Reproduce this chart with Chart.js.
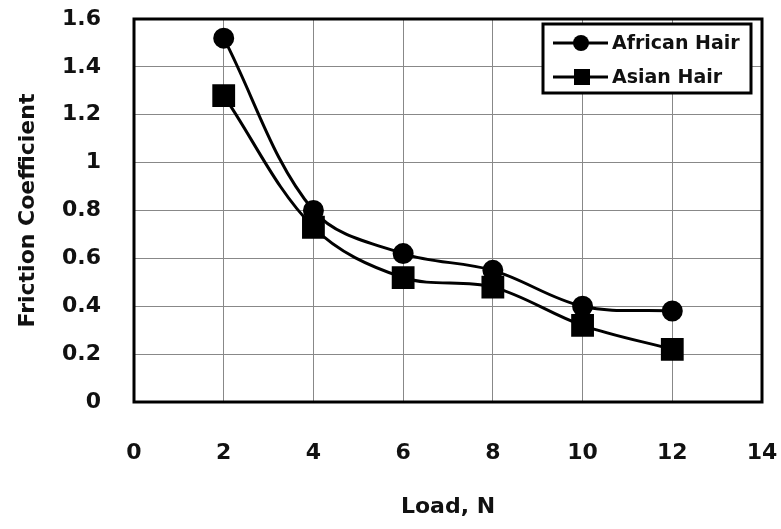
<!DOCTYPE html>
<html lang="en">
<head>
    <meta charset="UTF-8">
    <title>Friction Coefficient vs Load</title>
    <script src="https://cdn.jsdelivr.net/npm/chart.js"></script>
    <style>
        body { margin: 0; background: #fff; }
        #wrap { width: 781px; height: 529px; }
    </style>
</head>
<body>
    <div id="wrap"><canvas id="frictionChart" width="781" height="529"></canvas></div>

    <script>
        // values
        const loads = [2, 4, 6, 8, 10, 12];
        const africanHair = [1.52, 0.80, 0.62, 0.55, 0.40, 0.38];
        const asianHair = [1.28, 0.73, 0.52, 0.48, 0.32, 0.22];
        const seriesNames = ['African Hair', 'Asian Hair'];
        const xTicks = [0, 2, 4, 6, 8, 10, 12, 14];
        const yTicks = [0, 0.2, 0.4, 0.6, 0.8, 1, 1.2, 1.4, 1.6];

        const FONT = 'DejaVu Sans';
        const toPoints = ys => loads.map((x, i) => ({ x: x, y: ys[i] }));

        // thick black box round the plot area
        const frame = {
            id: 'frame',
            beforeDatasetsDraw(chart) {
                const { ctx, chartArea: a } = chart;
                ctx.save();
                ctx.strokeStyle = '#000';
                ctx.lineWidth = 3;
                ctx.strokeRect(a.left, a.top, a.right - a.left, a.bottom - a.top);
                ctx.restore();
            }
        };

        // boxed legend inside the top right corner
        const boxLegend = {
            id: 'boxLegend',
            afterDatasetsDraw(chart) {
                const ctx = chart.ctx;
                const bx = 543, by = 24, bw = 208, bh = 69;
                ctx.save();
                ctx.fillStyle = '#fff';
                ctx.fillRect(bx, by, bw, bh);
                ctx.strokeStyle = '#000';
                ctx.lineWidth = 3;
                ctx.strokeRect(bx, by, bw, bh);
                chart.data.datasets.forEach((ds, i) => {
                    const y = 43 + i * 34;
                    ctx.strokeStyle = '#000';
                    ctx.lineWidth = 3;
                    ctx.beginPath();
                    ctx.moveTo(553, y);
                    ctx.lineTo(608, y);
                    ctx.stroke();
                    ctx.fillStyle = '#000';
                    if (ds.pointStyle === 'rect') {
                        ctx.fillRect(574, y - 8, 16, 16);
                    } else {
                        ctx.beginPath();
                        ctx.arc(581, y, 8, 0, Math.PI * 2);
                        ctx.fill();
                    }
                    ctx.font = 'bold 19px "' + FONT + '"';
                    ctx.textBaseline = 'middle';
                    ctx.fillStyle = '#111';
                    ctx.fillText(ds.label, 612, y + 1);
                });
                ctx.restore();
            }
        };

        new Chart(document.getElementById('frictionChart'), {
            type: 'line',
            data: {
                datasets: [
                    {
                        label: seriesNames[0],
                        data: toPoints(africanHair),
                        borderColor: '#000',
                        backgroundColor: '#000',
                        borderWidth: 3,
                        pointStyle: 'circle',
                        pointRadius: 9,
                        pointHoverRadius: 9,
                        tension: 0.35
                    },
                    {
                        label: seriesNames[1],
                        data: toPoints(asianHair),
                        borderColor: '#000',
                        backgroundColor: '#000',
                        borderWidth: 3,
                        pointStyle: 'rect',
                        pointRadius: 14,
                        pointHoverRadius: 14,
                        tension: 0.35
                    }
                ]
            },
            options: {
                responsive: false,
                animation: false,
                layout: { padding: { top: 19, right: 19, left: 0, bottom: 0 } },
                plugins: {
                    legend: { display: false },
                    tooltip: { enabled: false }
                },
                scales: {
                    x: {
                        type: 'linear',
                        min: 0,
                        max: 14,
                        afterBuildTicks: s => { s.ticks = xTicks.map(v => ({ value: v })); },
                        afterFit: s => {
                            s.height = 127;
                            s.paddingLeft = 0;
                            s.paddingRight = 0;
                        },
                        border: { display: false },
                        grid: { color: '#888', lineWidth: 1, drawTicks: false },
                        ticks: {
                            padding: 38,
                            color: '#111',
                            font: { family: FONT, size: 22, weight: 'bold' }
                        },
                        title: {
                            display: true,
                            text: 'Load, N',
                            color: '#111',
                            padding: { top: 0, bottom: 9 },
                            font: { family: FONT, size: 22, weight: 'bold' }
                        }
                    },
                    y: {
                        min: 0,
                        max: 1.6,
                        afterBuildTicks: s => { s.ticks = yTicks.map(v => ({ value: v })); },
                        afterFit: s => {
                            s.width = 134;
                            s.paddingTop = 0;
                            s.paddingBottom = 0;
                        },
                        border: { display: false },
                        grid: { color: '#888', lineWidth: 1, drawTicks: false },
                        ticks: {
                            padding: 33,
                            color: '#111',
                            font: { family: FONT, size: 22, weight: 'bold' },
                            callback: v => String(Number(v.toFixed(1)))
                        },
                        title: {
                            display: true,
                            text: 'Friction Coefficient',
                            color: '#111',
                            padding: { top: 15, bottom: 0 },
                            font: { family: FONT, size: 22, weight: 'bold' }
                        }
                    }
                }
            },
            plugins: [frame, boxLegend]
        });
    </script>
</body>
</html>
